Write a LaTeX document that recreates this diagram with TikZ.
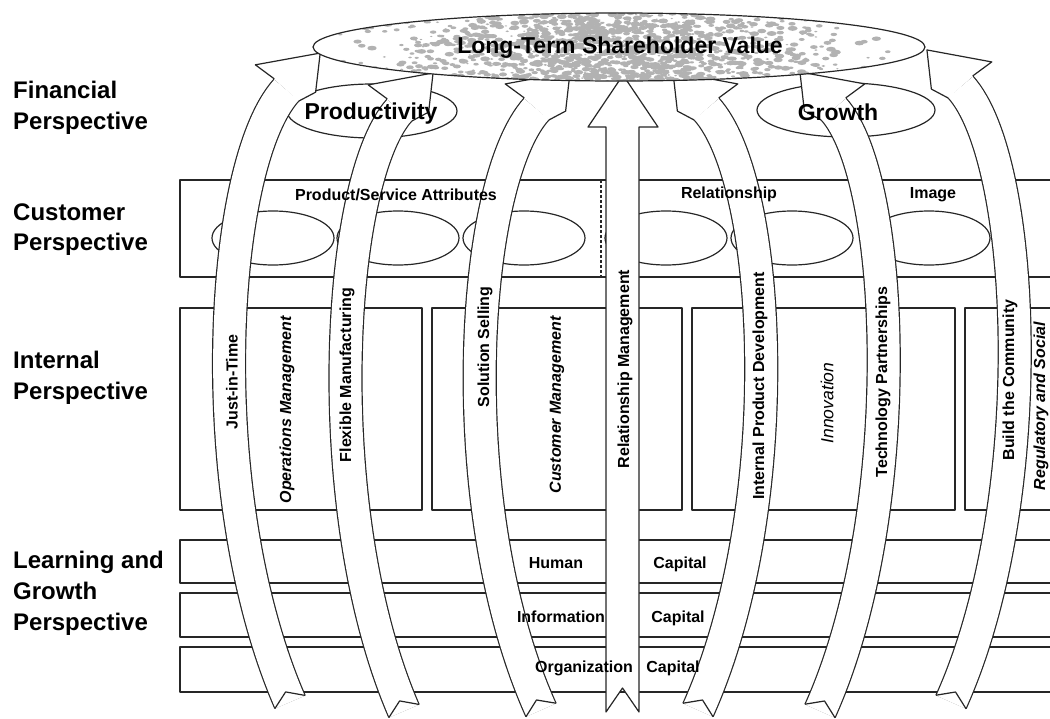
\documentclass[tikz,border=0pt]{standalone}
\usepackage{fontspec}
\setmainfont{Liberation Sans}
\usetikzlibrary{calc}

\tikzset{
  ink/.style={draw=black!85, line width=1.2pt},
  band/.style={draw=black!85, line width=1.2pt, double=white, double distance=31.8pt},
  speck/.style={fill=black!30},
  sidetext/.style={inner sep=0pt, anchor=base west, font=\fontsize{24}{29}\selectfont\bfseries},
  bigtext/.style={inner sep=0pt, anchor=base, font=\fontsize{23}{28}\selectfont\bfseries},
  smalltext/.style={inner sep=0pt, anchor=base, font=\fontsize{16}{19}\selectfont\bfseries},
  arrowtext/.style={inner sep=0pt, rotate=90, font=\fontsize{16}{19}\selectfont\bfseries},
  processtext/.style={inner sep=0pt, rotate=90, font=\fontsize{16}{19}\selectfont\bfseries\itshape},
}

% Curved broad arrow: #1 tail centre, #2 control near tail, #3 control near head,
% #4 centre of the head base, #5 rotation towards the outer wing, #6 towards the inner wing
\newcommand{\bendarrow}[6]{%
  \draw[band] #1 .. controls #2 and #3 .. #4;
  \coordinate (hB) at #4;
  \coordinate (hC) at #3;
  \coordinate (hSo) at ($(hB)!16.5pt!#5:(hC)$);
  \coordinate (hSi) at ($(hB)!16.5pt!#6:(hC)$);
  \coordinate (hT) at ($(hB)!-50pt!(hC)$);
  \coordinate (hBack) at ($(hB)!2.4pt!(hC)$);
  \coordinate (hWo) at ($(hBack)!40pt!#5:(hC)$);
  \coordinate (hFwd) at ($(hB)!-18pt!(hC)$);
  \coordinate (hWi) at ($(hFwd)!23pt!#6:(hC)$);
  \filldraw[ink, fill=white] (hSo) -- (hWo) -- (hT) -- (hWi) -- (hSi);
  \coordinate (tP) at #1;
  \coordinate (tC) at #2;
  \coordinate (tL) at ($(tP)!16.5pt!90:(tC)$);
  \coordinate (tR) at ($(tP)!16.5pt!-90:(tC)$);
  \coordinate (tN) at ($(tP)!11pt!(tC)$);
  \fill[white] (tL) -- (tN) -- (tR) -- cycle;
  \draw[ink] (tL) -- (tN) -- (tR);
}

\begin{document}
\begin{tikzpicture}[x=1pt, y=-1pt, line join=round]
\useasboundingbox (0,0) rectangle (1050,718);

% perspective names in the margin
\node[sidetext] (fin1) at (13,98.5) {Financial};
\node[sidetext] (fin2) at (13,129.5) {Perspective};
\node[sidetext] (cus1) at (13,220.5) {Customer};
\node[sidetext] (cus2) at (13,250.5) {Perspective};
\node[sidetext] (int1) at (13,368.5) {Internal};
\node[sidetext] (int2) at (13,399.5) {Perspective};
\node[sidetext] (lrn1) at (13,568.5) {Learning and};
\node[sidetext] (lrn2) at (13,599.5) {Growth};
\node[sidetext] (lrn3) at (13,630.5) {Perspective};

% customer band
\draw[ink] (180,180) rectangle (1060,277);
\draw[ink, dash pattern=on 3pt off 2pt] (601,180) -- (601,277);
\foreach \cx in {273,398,524,666,792,929}
  \draw[ink] (\cx,238) ellipse [x radius=61, y radius=27];

% internal process boxes
\draw[ink] (180,308) rectangle (422,510);
\draw[ink] (432,308) rectangle (682,510);
\draw[ink] (692,308) rectangle (955,510);
\draw[ink] (965,308) rectangle (1060,510);

% learning and growth strips
\draw[ink] (180,540) rectangle (1060,583);
\draw[ink] (180,593) rectangle (1060,637);
\draw[ink] (180,647) rectangle (1060,692);

% financial goals
\draw[ink] (372,111) ellipse [x radius=85, y radius=27];
\draw[ink] (846,110) ellipse [x radius=89, y radius=27];

% strategy arrows
\bendarrow{(290,702)}{(200,495)}{(219,164)}{(286.5,90)}{-90}{90}
\bendarrow{(404,711)}{(318,513)}{(335.8,180.3)}{(399.5,110)}{-90}{90}
\bendarrow{(541,710)}{(450.8,509.8)}{(469.5,183)}{(536.5,109)}{-90}{90}
\filldraw[ink, fill=white] (606,712) -- (606,127) -- (588,127) -- (623,75) -- (658,127)
  -- (639,127) -- (639,712) -- (622.5,688) -- cycle;
\bendarrow{(698,710)}{(788.2,509.8)}{(773.5,183)}{(706.5,109)}{90}{-90}
\bendarrow{(820,711)}{(908.2,515.4)}{(897.2,179.3)}{(833.5,109)}{90}{-90}
\bendarrow{(951,702)}{(1041.2,501.8)}{(1027.5,161)}{(960.5,87)}{90}{-90}

% shareholder value ellipse with a mottled fill, denser towards the middle
\begin{scope}
  \clip (619,47) ellipse [x radius=306, y radius=34];
  \fill[white] (310,10) rectangle (930,85);
  \pgfmathsetseed{4321}
  \foreach \k in {1,...,1500}{
    \pgfmathsetmacro{\bx}{619+320*(rnd+rnd+rnd-1.5)/1.5}
    \pgfmathsetmacro{\by}{47+36*(2*rnd-1)}
    \pgfmathsetmacro{\br}{0.6+1.9*rnd}
    \fill[speck] (\bx,\by) ellipse [x radius=2*\br, y radius=\br];
  }
\end{scope}
\draw[ink] (619,47) ellipse [x radius=306, y radius=34];

% texts
\node[bigtext] (ltsv) at (620,53) {Long-Term Shareholder Value};
\node[bigtext] (prod) at (371,119) {Productivity};
\node[bigtext] (grow) at (838,120) {Growth};

\node[smalltext] (psa) at (396,200) {Product/Service Attributes};
\node[smalltext] (rel) at (729,198) {Relationship};
\node[smalltext] (img) at (933,198) {Image};

\node[processtext] (opm) at (287,410) {Operations Management};
\node[processtext] (cum) at (557,405) {Customer Management};
\node[inner sep=0pt, rotate=90, font=\fontsize{17.5}{20}\selectfont\itshape] (inn) at (827,403) {Innovation};
\node[processtext] (reg) at (1041,406) {Regulatory and Social};

\node[smalltext] (hum) at (556,568) {Human};
\node[smalltext] (cap1) at (680,568) {Capital};
\node[smalltext] (inf) at (561,622) {Information};
\node[smalltext] (cap2) at (678,622) {Capital};
\node[smalltext] (org) at (584,672) {Organization};
\node[smalltext] (cap3) at (673,672) {Capital};

\node[arrowtext] (jit) at (232,382) {Just-in-Time};
\node[arrowtext] (flx) at (347,375) {Flexible Manufacturing};
\node[arrowtext] (sol) at (485,347) {Solution Selling};
\node[arrowtext] (rlm) at (625,369) {Relationship Management};
\node[arrowtext] (ipd) at (760,386) {Internal Product Development};
\node[arrowtext] (tec) at (883,382) {Technology Partnerships};
\node[arrowtext] (bld) at (1010,380) {Build the Community};
\end{tikzpicture}
\end{document}
